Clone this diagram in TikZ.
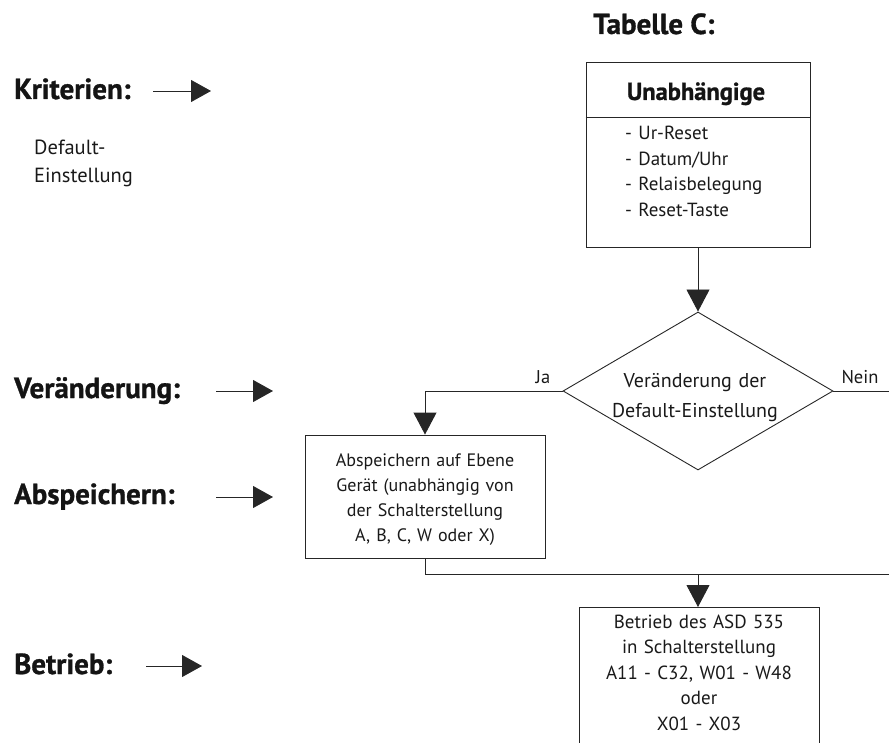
\documentclass[tikz,border=0pt]{standalone}
\usepackage{fontspec}
\setmainfont{PT Sans}
\newfontfamily\heavyfont[FakeBold=1.0]{PT Sans Bold}
\usetikzlibrary{arrows.meta,shapes.geometric}

\tikzset{
  line/.style={draw=black!85, line width=0.9pt},
  bigarrow/.style={line, -{Triangle[length=22pt,width=23pt]}},
  sidearrow/.style={line, -{Triangle[length=20pt,width=22pt]}},
  frame/.style={line, rectangle, inner sep=0pt},
  body/.style={font=\fontsize{19}{25.5}\selectfont, inner sep=0pt, text=black!90},
  heading/.style={font=\fontsize{29}{32}\selectfont\heavyfont, inner sep=0pt, text=black!92},
  boxtitle/.style={font=\fontsize{24.5}{28}\selectfont\heavyfont, inner sep=0pt, text=black!92},
}

\begin{document}
\begin{tikzpicture}[x=1pt, y=-1pt]
\useasboundingbox (0,0) rectangle (889,743);

% column of criteria on the left
\node[heading, anchor=base west] (kriterien) at (14,99) {Kriterien:};
\node[heading, anchor=base west] (veraenderung) at (14,398) {Veränderung:};
\node[heading, anchor=base west] (abspeichern) at (14,504) {Abspeichern:};
\node[heading, anchor=base west] (betrieb) at (14,674) {Betrieb:};
\node[body, anchor=base west, text width=140pt, align=left,
      font=\fontsize{20.5}{27.5}\selectfont] (default) at (34,155) {Default-\\Einstellung};

\coordinate (k1) at (153,91);  \coordinate (k2) at (211,91);
\coordinate (v1) at (216,391); \coordinate (v2) at (273,391);
\coordinate (a1) at (216,497); \coordinate (a2) at (273,497);
\coordinate (b1) at (146,666); \coordinate (b2) at (202,666);
\draw[sidearrow] (k1) -- (k2);
\draw[sidearrow] (v1) -- (v2);
\draw[sidearrow] (a1) -- (a2);
\draw[sidearrow] (b1) -- (b2);

% table heading
\node[heading, anchor=base west] (tabelle) at (593,34) {Tabelle C:};

% independent settings box
\node[frame, minimum width=224pt, minimum height=185pt] (indep) at (698,154.5) {};
\draw[line] (indep.west |- 0,117) -- (indep.east |- 0,117);
\node[boxtitle, anchor=base] (indeptitle) at (696,100) {Unabhängige};
\node[body, anchor=base west, text width=180pt, align=left] (indeplist) at (625,140)
  {- Ur-Reset\\- Datum/Uhr\\- Relaisbelegung\\- Reset-Taste};

% decision
\node[diamond, line, minimum width=270pt, minimum height=158pt, inner sep=0pt,
      aspect=1.7] (dec) at (698,391) {};
\node[body, anchor=base, text width=220pt, align=center,
      font=\fontsize{20}{30}\selectfont] (dectext) at (695,387)
  {Veränderung der\\Default-Einstellung};
\node[body, anchor=base, font=\fontsize{18.5}{22}\selectfont] (ja) at (543,383) {Ja};
\node[body, anchor=base, font=\fontsize{18.5}{22}\selectfont] (nein) at (860,383) {Nein};

% storing box
\node[frame, minimum width=240pt, minimum height=123pt] (save) at (425,496.5) {};
\node[body, anchor=base, text width=230pt, align=center,
      font=\fontsize{18}{25.3}\selectfont] (savetext) at (425,466)
  {Abspeichern auf Ebene\\Gerät (unabhängig von\\der Schalterstellung\\A, B, C, W oder X)};

% operation box (runs past the lower edge)
\node[frame, minimum width=240pt, minimum height=150pt, anchor=north] (run) at (699,607) {};
\node[body, anchor=base, text width=230pt, align=center] (runtext) at (699,628)
  {Betrieb des ASD 535\\in Schalterstellung\\A11 - C32, W01 - W48\\oder\\X01 - X03};

% connectors
\coordinate (jacorner) at (425,391);
\coordinate (neinend) at (889,391);
\coordinate (joinleft) at (425,574);
\coordinate (joinmid) at (698,574);
\coordinate (joinright) at (889,574);

\draw[bigarrow] (indep.south) -- (dec.north);
\draw[bigarrow] (dec.west) -- (jacorner) -- (save.north);
\draw[line] (dec.east) -- (neinend);
\draw[line] (save.south) -- (joinleft) -- (joinright);
\draw[bigarrow] (joinmid) -- (run.north -| joinmid);
\end{tikzpicture}
\end{document}
